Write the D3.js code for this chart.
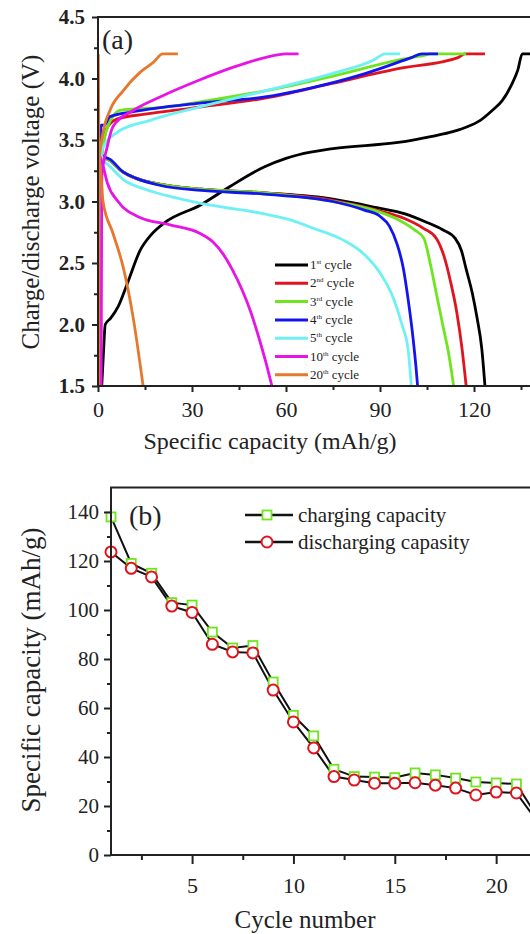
<!DOCTYPE html>
<html>
<head>
<meta charset="utf-8">
<script src="https://cdn.jsdelivr.net/npm/d3@7/dist/d3.min.js"></script>
<style>
body { margin: 0; background: #fff; }
svg, svg text { font-family: "Liberation Serif", "Times New Roman", serif; }
svg { display: block; }
</style>
</head>
<body>
<script>
// ---- panel (a): charge / discharge profiles, [capacity mAh/g, voltage V]
var charge1 = [[1.2,1.5],[1.8,1.8],[2.3,2.0],[4,2.05],[6.5,2.15],[9.6,2.35],[13.4,2.6],[17,2.73],[21.4,2.83],[32.6,2.97],[42,3.12],[53,3.28],[60,3.35],[64,3.38],[75,3.43],[95.8,3.48],[106.6,3.53],[112,3.56],[117,3.6],[122,3.66],[125.8,3.74],[129,3.82],[132,3.95],[134,4.07],[135.4,4.2],[150,4.2]];
var discharge1 = [[0.1,3.55],[1,3.38],[4,3.33],[8,3.24],[12,3.19],[20,3.14],[33,3.1],[53,3.07],[75,3.02],[89,2.95],[98,2.9],[105,2.83],[110,2.77],[114,2.7],[116,2.6],[117.5,2.45],[119.5,2.25],[121,2.05],[122.5,1.8],[123.5,1.5]];
var charge2 = [[0.3,1.5],[0.5,3.3],[1.5,3.45],[2.9,3.6],[6,3.67],[15,3.71],[30,3.76],[53.3,3.84],[74.7,3.96],[95.8,4.08],[114.9,4.17],[117,4.2],[123.5,4.2]];
var discharge2 = [[0.1,3.5],[1,3.38],[4,3.33],[8,3.24],[12,3.19],[20,3.14],[33,3.1],[53,3.07],[75,3.01],[89,2.93],[98,2.86],[104,2.78],[108,2.7],[110.5,2.55],[112.5,2.35],[114.5,2.1],[116.2,1.8],[117.5,1.5]];
var charge3 = [[0.6,1.5],[0.8,3.0],[1.6,3.45],[3,3.6],[5,3.7],[7,3.74],[22,3.77],[35,3.82],[53.3,3.9],[75,4.02],[95.8,4.15],[104.4,4.19],[106,4.2],[117.5,4.2]];
var discharge3 = [[0.1,3.5],[1,3.38],[4,3.33],[8,3.24],[12,3.19],[20,3.14],[33,3.1],[53,3.07],[75,3.0],[88,2.93],[96,2.85],[101,2.77],[104,2.7],[106,2.5],[108,2.25],[110,2.0],[112,1.75],[113.5,1.5]];
var charge4 = [[0.4,1.5],[0.6,3.3],[1,3.62],[2,3.62],[3.8,3.69],[11.2,3.73],[32.6,3.8],[53.3,3.85],[63.8,3.9],[85.2,4.04],[100,4.17],[103.4,4.2],[108.5,4.2]];
var discharge4 = [[0.1,3.5],[1,3.38],[4,3.34],[8,3.24],[12,3.19],[20,3.13],[33,3.09],[53,3.06],[75,3.0],[85,2.93],[90,2.88],[93,2.8],[95.5,2.65],[97.5,2.45],[99,2.2],[100.5,1.9],[101.5,1.65],[102,1.5]];
var charge5 = [[0.5,1.5],[0.7,3.3],[1.6,3.44],[6,3.56],[16.6,3.66],[32.6,3.77],[53.3,3.9],[74.7,4.04],[88,4.15],[91.6,4.2],[96.4,4.2]];
var discharge5 = [[0.1,3.45],[1.5,3.35],[4,3.28],[8,3.18],[15,3.1],[25,3.03],[36,2.97],[53,2.9],[60,2.86],[69,2.78],[78,2.69],[85,2.57],[90,2.42],[94.5,2.2],[97,2.0],[99,1.79],[100,1.5]];
var charge10 = [[1.0,1.5],[1.2,3.2],[2.9,3.44],[4.8,3.61],[11.2,3.74],[19.8,3.85],[32.6,3.99],[43,4.09],[53.3,4.17],[60,4.2],[64,4.2]];
var discharge10 = [[0.1,3.4],[1.5,3.3],[3,3.15],[6.4,3.0],[13.4,2.87],[23,2.81],[32.6,2.74],[36.7,2.67],[40,2.57],[43,2.44],[46,2.28],[48.5,2.12],[51.5,1.88],[53.5,1.7],[55.5,1.5]];
var charge20 = [[0.2,1.5],[0.3,3.3],[1.6,3.56],[3.8,3.74],[8,3.9],[13.4,4.05],[17.6,4.13],[20.7,4.2],[25.5,4.2]];
var discharge20 = [[0.1,4.2],[0.3,3.4],[1,3.2],[1.6,3.0],[4.8,2.74],[8,2.47],[11.2,2.06],[14.4,1.5]];

var cycleNames = ["1", "2", "3", "4", "5", "10", "20"];
var cycleSuffix = ["st", "nd", "rd", "th", "th", "th", "th"];
var cycleColors = ["#000000", "#e0141e", "#6ee61e", "#1414f0", "#6ef0f5", "#e614e6", "#e6782d"];

var voltTicks = [1.5, 2.0, 2.5, 3.0, 3.5, 4.0, 4.5];
var capTicks = [0, 30, 60, 90, 120];

// ---- panel (b): capacity vs cycle number
var cycleNo = [1,2,3,4,5,6,7,8,9,10,11,12,13,14,15,16,17,18,19,20,21,22];
var chargeCap = [138,119,115,103,102,91,84.5,85.5,70.6,57,48.6,35,32,31.8,31.6,33.5,32.7,31.4,29.8,29.4,29,16];
var dischargeCap = [123.7,117,113.5,101.6,99,86,82.9,82.5,67.3,54.3,43.7,32,30.6,29.3,29.3,29.5,28.5,27.3,24.5,25.7,25.3,14];
var capTicksB = [0, 20, 40, 60, 80, 100, 120, 140];
var cycleTicks = [5, 10, 15, 20];

var serif = '"Liberation Serif", "Times New Roman", serif';

var svg = d3.select("body").append("svg")
    .attr("width", 530)
    .attr("height", 934);

// ================= panel (a)
var xA = d3.scaleLinear().domain([0, 150]).range([98, 568]);
var yA = d3.scaleLinear().domain([1.5, 4.5]).range([386, 17]);

var ga = svg.append("g");

var lineA = d3.line()
    .x(d => xA(d[0]))
    .y(d => yA(d[1]))
    .curve(d3.curveMonotoneX);

var curves = [
    [charge1, discharge1], [charge2, discharge2], [charge3, discharge3],
    [charge4, discharge4], [charge5, discharge5], [charge10, discharge10],
    [charge20, discharge20]
];

curves.forEach((pair, i) => {
    pair.forEach(c => {
        ga.append("path")
            .attr("d", lineA(c))
            .attr("fill", "none")
            .attr("stroke", cycleColors[i])
            .attr("stroke-width", 2.8)
            .attr("stroke-linejoin", "round");
    });
});

ga.append("rect")
    .attr("x", 98).attr("y", 17)
    .attr("width", 470).attr("height", 369)
    .attr("fill", "none")
    .attr("stroke", "#222")
    .attr("stroke-width", 2);

var yAxisA = ga.append("g")
    .attr("transform", "translate(98,0)")
    .call(d3.axisLeft(yA).tickValues(voltTicks).tickFormat(d3.format(".1f")).tickSize(6).tickPadding(7));
yAxisA.selectAll("text").style("font-size", "21px").style("font-weight", "bold");
ga.append("g")
    .attr("transform", "translate(98,0)")
    .call(d3.axisLeft(yA).tickValues(d3.range(1.75, 4.5, 0.5)).tickFormat("").tickSize(4));

var xAxisA = ga.append("g")
    .attr("transform", "translate(0,386)")
    .call(d3.axisBottom(xA).tickValues(capTicks).tickSize(6).tickPadding(9));
xAxisA.selectAll("text").style("font-size", "22px");
ga.append("g")
    .attr("transform", "translate(0,386)")
    .call(d3.axisBottom(xA).tickValues(d3.range(15, 150, 30)).tickFormat("").tickSize(4));

ga.selectAll(".domain").remove();
ga.selectAll(".tick line").attr("stroke", "#222").attr("stroke-width", 2);

ga.append("text")
    .attr("x", 270).attr("y", 449)
    .attr("text-anchor", "middle")
    .style("font-size", "24px")
    .style("fill", "#222")
    .text("Specific capacity (mAh/g)");

ga.append("text")
    .attr("transform", "translate(39,202) rotate(-90)")
    .attr("text-anchor", "middle")
    .style("font-size", "25px")
    .style("fill", "#222")
    .text("Charge/discharge voltage (V)");

ga.append("text")
    .attr("x", 102).attr("y", 49)
    .style("font-size", "28px")
    .style("fill", "#222")
    .text("(a)");

// legend (a)
var legA = ga.append("g");
cycleNames.forEach((n, i) => {
    var y = 265 + i * 18.3;
    legA.append("line")
        .attr("x1", 275).attr("x2", 308)
        .attr("y1", y).attr("y2", y)
        .attr("stroke", cycleColors[i])
        .attr("stroke-width", 3);
    var t = legA.append("text")
        .attr("x", 310).attr("y", y + 4)
        .style("font-size", "13px")
        .style("fill", "#222");
    t.append("tspan").text(n);
    t.append("tspan").attr("dy", -5).style("font-size", "7px").text(cycleSuffix[i]);
    t.append("tspan").attr("dy", 5).text(" cycle");
});

// ================= panel (b)
var xB = d3.scaleLinear().domain([1, 25]).range([111, 597.5]);
var yB = d3.scaleLinear().domain([0, 150]).range([855, 487.5]);

var gb = svg.append("g");

var lineCh = d3.line().x((d, i) => xB(cycleNo[i])).y(d => yB(d));

gb.append("path")
    .attr("d", lineCh(chargeCap))
    .attr("fill", "none").attr("stroke", "#111").attr("stroke-width", 2);
gb.append("path")
    .attr("d", lineCh(dischargeCap))
    .attr("fill", "none").attr("stroke", "#111").attr("stroke-width", 2);

gb.selectAll(".sq")
    .data(chargeCap)
    .enter().append("rect")
        .attr("class", "sq")
        .attr("x", (d, i) => xB(cycleNo[i]) - 4.5)
        .attr("y", d => yB(d) - 4.5)
        .attr("width", 9).attr("height", 9)
        .attr("fill", "#fff")
        .attr("stroke", "#6ee61e")
        .attr("stroke-width", 1.8);

gb.selectAll(".ci")
    .data(dischargeCap)
    .enter().append("circle")
        .attr("class", "ci")
        .attr("cx", (d, i) => xB(cycleNo[i]))
        .attr("cy", d => yB(d))
        .attr("r", 5.5)
        .attr("fill", "#fff")
        .attr("stroke", "#e0141e")
        .attr("stroke-width", 2);

gb.append("rect")
    .attr("x", 111).attr("y", 487.5)
    .attr("width", 486.5).attr("height", 367.5)
    .attr("fill", "none")
    .attr("stroke", "#222")
    .attr("stroke-width", 2);

var yAxisB = gb.append("g")
    .attr("transform", "translate(111,0)")
    .call(d3.axisLeft(yB).tickValues(capTicksB).tickSize(7).tickPadding(5));
yAxisB.selectAll("text").style("font-size", "21px");
gb.append("g")
    .attr("transform", "translate(111,0)")
    .call(d3.axisLeft(yB).tickValues(d3.range(10, 150, 20)).tickFormat("").tickSize(4));

var xAxisB = gb.append("g")
    .attr("transform", "translate(0,855)")
    .call(d3.axisBottom(xB).tickValues(cycleTicks).tickSize(9).tickPadding(13));
xAxisB.selectAll("text").style("font-size", "22px");
gb.append("g")
    .attr("transform", "translate(0,855)")
    .call(d3.axisBottom(xB).tickValues(d3.range(2.5, 25, 5)).tickFormat("").tickSize(5));

gb.selectAll(".domain").remove();
gb.selectAll(".tick line").attr("stroke", "#222").attr("stroke-width", 2);

// axis tick labels: serif, dark grey
svg.selectAll(".tick text")
    .style("font-family", serif)
    .style("fill", "#222");

gb.append("text")
    .attr("x", 305).attr("y", 928)
    .attr("text-anchor", "middle")
    .style("font-size", "25px")
    .style("fill", "#222")
    .text("Cycle number");

gb.append("text")
    .attr("transform", "translate(40,670) rotate(-90)")
    .attr("text-anchor", "middle")
    .style("font-size", "27px")
    .style("fill", "#222")
    .text("Specific capacity (mAh/g)");

gb.append("text")
    .attr("x", 129).attr("y", 525)
    .style("font-size", "28px")
    .style("fill", "#222")
    .text("(b)");

// legend (b)
var legB = gb.append("g");
[["charging capacity", "sq"], ["discharging capasity", "ci"]].forEach((it, i) => {
    var y = 515 + i * 27;
    legB.append("line")
        .attr("x1", 245).attr("x2", 293)
        .attr("y1", y).attr("y2", y)
        .attr("stroke", "#111").attr("stroke-width", 2.5);
    if (it[1] == "sq") {
        legB.append("rect")
            .attr("x", 267 - 4.5).attr("y", y - 4.5)
            .attr("width", 9).attr("height", 9)
            .attr("fill", "#fff").attr("stroke", "#6ee61e").attr("stroke-width", 1.8);
    } else {
        legB.append("circle")
            .attr("cx", 267).attr("cy", y).attr("r", 5.5)
            .attr("fill", "#fff").attr("stroke", "#e0141e").attr("stroke-width", 2);
    }
    legB.append("text")
        .attr("x", 298).attr("y", y + 7)
        .style("font-size", "21px")
        .style("fill", "#222")
        .text(it[0]);
});
</script>
</body>
</html>
